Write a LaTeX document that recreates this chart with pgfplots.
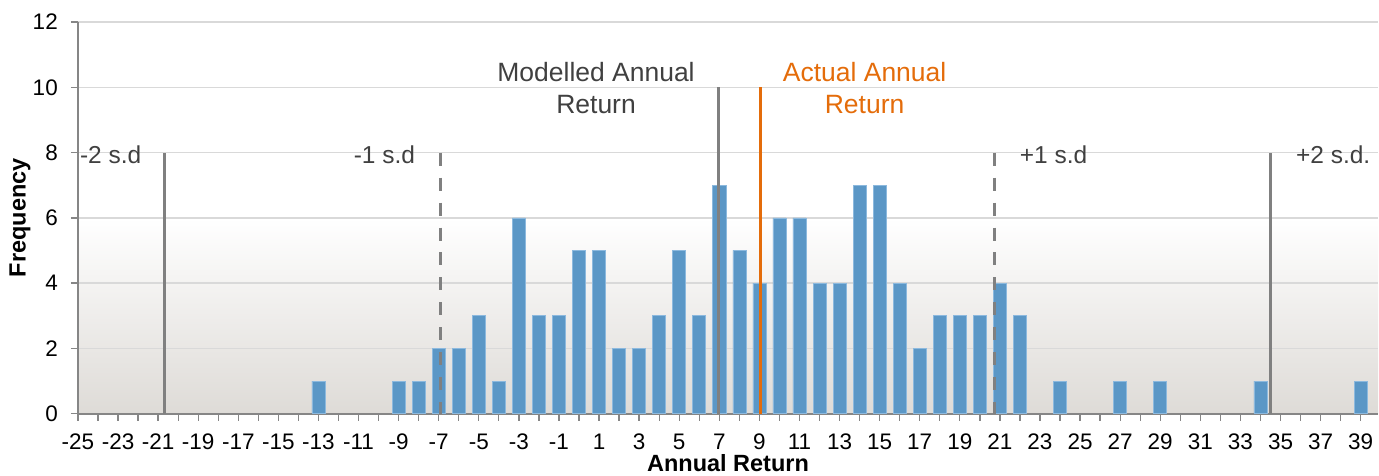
\documentclass[border=0pt]{standalone}
\usepackage{fontspec}
\setmainfont{Liberation Sans}
\usepackage{pgfplots}
\pgfplotsset{compat=1.18}
\definecolor{barblue}{RGB}{91,151,198}
\definecolor{baredge}{RGB}{140,185,222}
\definecolor{axgray}{RGB}{134,134,134}
\definecolor{gridgray}{RGB}{217,217,217}
\definecolor{linegray}{RGB}{128,128,128}
\definecolor{txtgray}{RGB}{64,64,64}
\definecolor{orng}{RGB}{228,108,10}
\definecolor{bggray}{RGB}{222,219,215}
\begin{document}
\begin{tikzpicture}
\begin{axis}[
  set layers,
  scale only axis, width=1301pt, height=392pt,
  xmin=-25, xmax=39.87, ymin=0, ymax=12,
  clip=false,
  axis x line*=bottom, axis y line*=left,
  axis line style={axgray, line width=1.8pt},
  xtick={-25,-23,...,39}, minor xtick={-24,-22,...,38},
  ytick={0,2,...,12},
  ymajorgrids, grid style={gridgray, line width=1.5pt},
  tick align=outside,
  major tick length=7pt, minor tick length=7pt,
  tick style={axgray, line width=1.3pt},
  /pgf/number format/assume math mode=true,
  ticklabel style={font=\fontsize{22.5}{26}\selectfont, inner sep=0pt, text=black},
  xticklabel style={anchor=base, yshift=-29pt},
  yticklabel style={anchor=east, xshift=-13pt},
  xlabel={Annual Return},
  xlabel style={font=\bfseries\fontsize{23.5}{28}\selectfont, at={(axis description cs:0.5,0)}, anchor=base, yshift=-58pt},
  ylabel={Frequency},
  ylabel style={font=\bfseries\fontsize{23.5}{28}\selectfont, at={(axis description cs:-0.0446,0.5)}, anchor=center},
]
\begin{pgfonlayer}{axis background}
\shade[top color=white, bottom color=bggray] (axis cs:-25,0) rectangle (axis cs:39.87,6);
\end{pgfonlayer}

\addplot[ybar, bar width=0.65, fill=barblue, draw=baredge, line width=0.6pt] coordinates {
(-13,1) (-9,1) (-8,1) (-7,2) (-6,2) (-5,3) (-4,1) (-3,6) (-2,3) (-1,3)
(0,5) (1,5) (2,2) (3,2) (4,3) (5,5) (6,3) (7,7) (8,5) (9,4)
(10,6) (11,6) (12,4) (13,4) (14,7) (15,7) (16,4) (17,2) (18,3) (19,3)
(20,3) (21,4) (22,3) (24,1) (27,1) (29,1) (34,1) (39,1)
};

\addplot[linegray, line width=3pt] coordinates {(-20.7,0) (-20.7,8)};
\addplot[linegray, line width=3pt, dash pattern=on 13pt off 12pt] coordinates {(-6.9,8) (-6.9,0)};
\addplot[linegray, line width=3pt] coordinates {(6.95,0) (6.95,10)};
\addplot[orng, line width=3.5pt] coordinates {(9.05,0) (9.05,10)};
\addplot[linegray, line width=3pt, dash pattern=on 13pt off 12pt] coordinates {(20.75,8) (20.75,0)};
\addplot[linegray, line width=3pt] coordinates {(34.5,0) (34.5,8)};

\node[txtgray, font=\fontsize{24.5}{28}\selectfont, anchor=base] at (axis cs:-23.37,7.68) {-2 s.d};
\node[txtgray, font=\fontsize{24.5}{28}\selectfont, anchor=base] at (axis cs:-9.71,7.68) {-1 s.d};
\node[txtgray, font=\fontsize{24.5}{28}\selectfont, anchor=base] at (axis cs:23.68,7.68) {+1 s.d};
\node[txtgray, font=\fontsize{24.5}{28}\selectfont, anchor=base] at (axis cs:37.63,7.68) {+2 s.d.};
\node[txtgray, font=\fontsize{26.5}{31}\selectfont, anchor=base] at (axis cs:0.85,10.17) {Modelled Annual};
\node[txtgray, font=\fontsize{26.5}{31}\selectfont, anchor=base] at (axis cs:0.85,9.2) {Return};
\node[orng, font=\fontsize{26.5}{31}\selectfont, anchor=base] at (axis cs:14.25,10.17) {Actual Annual};
\node[orng, font=\fontsize{26.5}{31}\selectfont, anchor=base] at (axis cs:14.25,9.2) {Return};
\end{axis}
\path[use as bounding box] ([xshift=-78pt,yshift=-60pt]current axis.south west) rectangle ([yshift=22pt]current axis.north east);
\end{tikzpicture}
\end{document}
